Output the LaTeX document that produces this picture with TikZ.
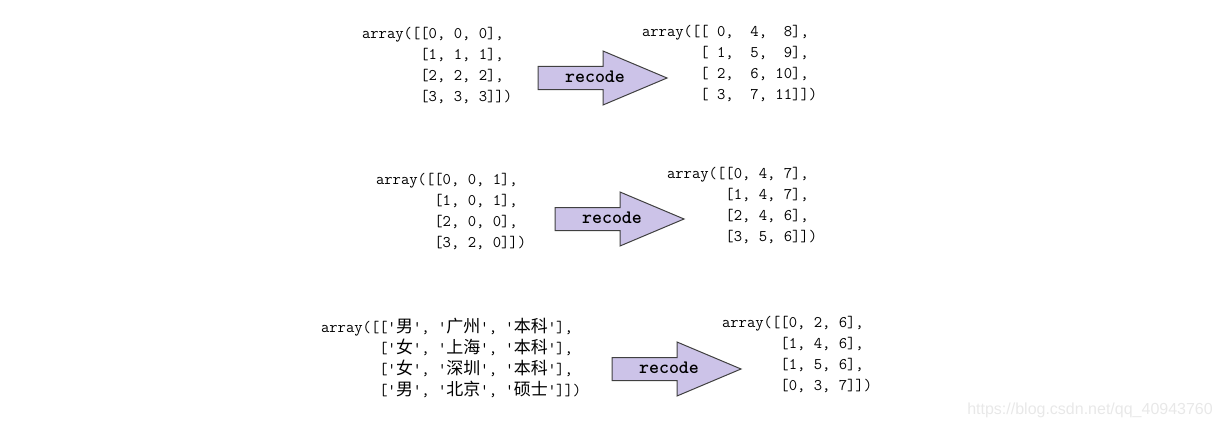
\documentclass[tikz,border=0pt]{standalone}
\usepackage{fontspec}
\newfontfamily\cjk{Noto Sans CJK SC}
\newfontfamily\recfont{lmmonolt10-bold.otf}
\newfontfamily\markfont{Liberation Sans}
\definecolor{recodefill}{HTML}{CCC3E8}
\definecolor{recodeline}{HTML}{404040}
\newcommand\arrfont{\fontsize{16.2}{21}\selectfont\ttfamily}
\newcommand\zh[1]{{\cjk\fontsize{17}{21}\selectfont #1}}
\newcommand\ind{\phantom{array([}}

\begin{document}
\begin{tikzpicture}[
    x=1pt, y=-1pt,
    arr/.style={font=\arrfont, align=left, anchor=north west, inner sep=0pt, outer sep=0pt},
    recodearrow/.style={draw=recodeline, fill=recodefill, line width=1pt, line join=miter},
    recodelabel/.style={font=\recfont\fontsize{19}{20}\selectfont, inner sep=0pt}
]
    \useasboundingbox (0,0) rectangle (1221,428);

    % --- ROW 1 ---
    \node[arr] (in1) at (362,27) {array([[0, 0, 0],\\
        \ind[1, 1, 1],\\
        \ind[2, 2, 2],\\
        \ind[3, 3, 3]])};
    \node[arr] (out1) at (642,25) {array([[\ 0,\ \ 4,\ \ 8],\\
        \ind[\ 1,\ \ 5,\ \ 9],\\
        \ind[\ 2,\ \ 6, 10],\\
        \ind[\ 3,\ \ 7, 11]])};

    % --- ROW 2 ---
    \node[arr] (in2) at (376,173) {array([[0, 0, 1],\\
        \ind[1, 0, 1],\\
        \ind[2, 0, 0],\\
        \ind[3, 2, 0]])};
    \node[arr] (out2) at (667,167) {array([[0, 4, 7],\\
        \ind[1, 4, 7],\\
        \ind[2, 4, 6],\\
        \ind[3, 5, 6]])};

    % --- ROW 3 (strings) ---
    \node[arr] (in3) at (321,318) {array([['\zh{男}', '\zh{广州}', '\zh{本科}'],\\
        \ind['\zh{女}', '\zh{上海}', '\zh{本科}'],\\
        \ind['\zh{女}', '\zh{深圳}', '\zh{本科}'],\\
        \ind['\zh{男}', '\zh{北京}', '\zh{硕士}']])};
    \node[arr] (out3) at (722,316) {array([[0, 2, 6],\\
        \ind[1, 4, 6],\\
        \ind[1, 5, 6],\\
        \ind[0, 3, 7]])};

    % --- RECODE ARROWS ---
    \foreach \n/\x/\y in {1/538/78, 2/555/219, 3/612/369} {
        \begin{scope}[shift={(\x,\y)}]
            \draw[recodearrow] (0,-11.5) -- (65,-11.5) -- (65,-27) -- (129,0)
                -- (65,27) -- (65,11.5) -- (0,11.5) -- cycle;
            \node[recodelabel] (rec\n) at (57,-1) {recode};
        \end{scope}
    }

    % Watermark
    \node[font=\markfont\fontsize{16}{18}\selectfont, text=black!9, anchor=east, inner sep=0pt]
        (mark) at (1213,410) {https://blog.csdn.net/qq\_40943760};

\end{tikzpicture}
\end{document}
